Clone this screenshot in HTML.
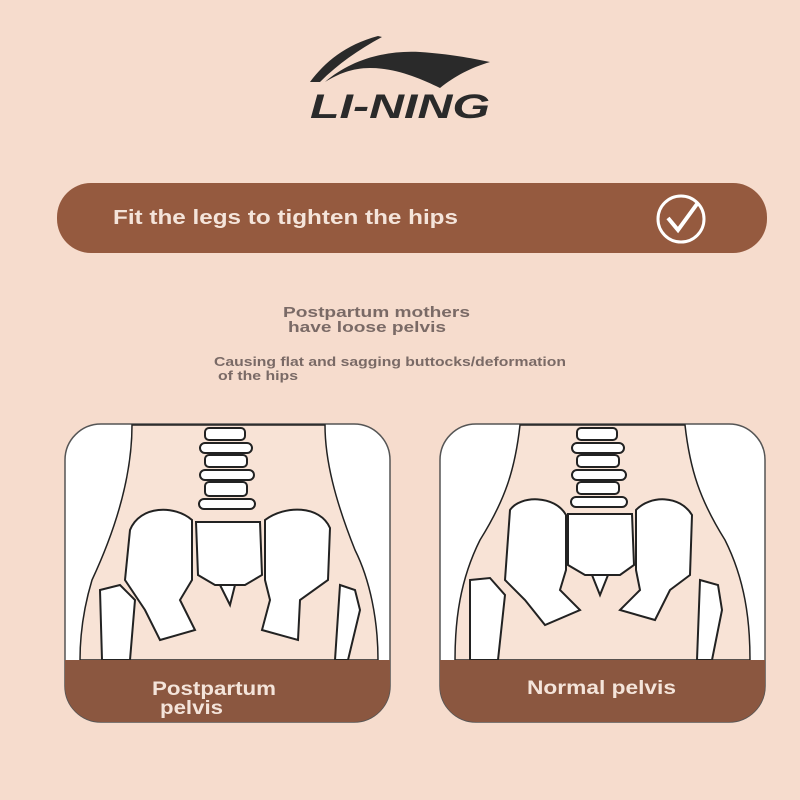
<!DOCTYPE html>
<html><head><style>
body{margin:0;width:800px;height:800px;background:#f6dccd;position:relative;overflow:hidden;font-family:"Liberation Sans",sans-serif;}
</style></head><body>
<svg width="800" height="800" style="position:absolute;left:0;top:0" font-family="Liberation Sans" font-weight="bold">
<!-- logo -->
<path d="M310 82 C325 62 345 45 378 36 L382 37 C358 50 338 64 320 82 Z" fill="#2a2a2a"/>
<path d="M325 82 C350 60 385 50 420 52 C450 54 470 58 490 62 C470 68 455 76 440 88 C420 78 395 68 370 68 C352 68 338 74 325 82 Z" fill="#2a2a2a"/>
<text x="310" y="118" font-style="italic" font-size="34" fill="#2a2a2a" textLength="180" lengthAdjust="spacingAndGlyphs">LI-NING</text>
<!-- banner -->
<rect x="57" y="183" width="710" height="70" rx="34" fill="#955a3f"/>
<text x="113" y="224" font-size="20" fill="#f4e4da" textLength="345" lengthAdjust="spacingAndGlyphs">Fit the legs to tighten the hips</text>
<circle cx="681" cy="219" r="23" fill="none" stroke="#fff" stroke-width="3"/>
<path d="M668 218 L678 230 L697 204" fill="none" stroke="#fff" stroke-width="4"/>
<!-- texts -->
<text x="283" y="317" font-size="15" fill="#7a6a66" textLength="187" lengthAdjust="spacingAndGlyphs">Postpartum mothers</text>
<text x="288" y="332" font-size="15" fill="#7a6a66" textLength="158" lengthAdjust="spacingAndGlyphs">have loose pelvis</text>
<text x="214" y="366" font-size="13" fill="#7a6a66" textLength="352" lengthAdjust="spacingAndGlyphs">Causing flat and sagging buttocks/deformation</text>
<text x="218" y="380" font-size="13" fill="#7a6a66" textLength="80" lengthAdjust="spacingAndGlyphs">of the hips</text>
<!-- left card -->
<g>
<rect x="65" y="424" width="325" height="298" rx="36" fill="#fff" stroke="#555" stroke-width="1.5"/>
<path d="M132 425 C132 470 120 520 92 580 C80 620 80 650 80 660 L378 660 C378 620 370 580 355 550 C335 500 325 460 325 425 Z" fill="#f8e3d6" stroke="#222" stroke-width="1.5"/>
<g fill="#fff" stroke="#222" stroke-width="2">
<rect x="205" y="428" width="40" height="12" rx="4"/>
<rect x="200" y="443" width="52" height="10" rx="5"/>
<rect x="205" y="455" width="42" height="12" rx="4"/>
<rect x="200" y="470" width="54" height="10" rx="5"/>
<rect x="205" y="482" width="42" height="14" rx="4"/>
<rect x="199" y="499" width="56" height="10" rx="5"/>
<path d="M196 522 L260 522 L262 575 L245 585 L215 585 L198 575 Z"/>
<path d="M220 585 L235 585 L230 605 Z"/>
<path d="M130 530 C140 505 175 505 192 520 L192 580 L180 600 L195 630 L160 640 L145 610 L125 580 Z"/>
<path d="M265 520 C285 505 320 505 330 528 L328 580 L300 600 L298 640 L262 630 L270 600 L265 580 Z"/>
<path d="M100 590 L120 585 L135 600 L130 660 L102 660 Z"/>
<path d="M340 585 L355 590 L360 610 L348 660 L335 660 Z"/>
</g>
<path d="M65 660 L390 660 L390 686 A36 36 0 0 1 354 722 L101 722 A36 36 0 0 1 65 686 Z" fill="#8b5740"/>
<text x="152" y="695" font-size="19" fill="#f4e4da" textLength="124" lengthAdjust="spacingAndGlyphs">Postpartum</text>
<text x="160" y="714" font-size="19" fill="#f4e4da" textLength="63" lengthAdjust="spacingAndGlyphs">pelvis</text>
</g>
<!-- right card -->
<g>
<rect x="440" y="424" width="325" height="298" rx="36" fill="#fff" stroke="#555" stroke-width="1.5"/>
<path d="M520 425 C515 470 505 500 480 540 C460 580 455 620 455 660 L750 660 C750 620 745 580 725 540 C700 500 690 470 685 425 Z" fill="#f8e3d6" stroke="#222" stroke-width="1.5"/>
<g fill="#fff" stroke="#222" stroke-width="2">
<rect x="577" y="428" width="40" height="12" rx="4"/>
<rect x="572" y="443" width="52" height="10" rx="5"/>
<rect x="577" y="455" width="42" height="12" rx="4"/>
<rect x="572" y="470" width="54" height="10" rx="5"/>
<rect x="577" y="482" width="42" height="12" rx="4"/>
<rect x="571" y="497" width="56" height="10" rx="5"/>
<path d="M568 514 L632 514 L634 565 L620 575 L585 575 L568 565 Z"/>
<path d="M592 575 L608 575 L600 595 Z"/>
<path d="M510 510 C520 495 555 495 566 515 L566 570 L560 590 L580 610 L545 625 L525 600 L505 580 Z"/>
<path d="M636 510 C650 495 680 495 692 515 L690 575 L670 590 L655 620 L620 610 L640 590 L636 570 Z"/>
<path d="M470 580 L490 578 L505 595 L498 660 L470 660 Z"/>
<path d="M700 580 L718 585 L722 610 L712 660 L697 660 Z"/>
</g>
<path d="M440 660 L765 660 L765 686 A36 36 0 0 1 729 722 L476 722 A36 36 0 0 1 440 686 Z" fill="#8b5740"/>
<text x="527" y="694" font-size="19" fill="#f4e4da" textLength="149" lengthAdjust="spacingAndGlyphs">Normal pelvis</text>
</g>
</svg>
</body></html>
